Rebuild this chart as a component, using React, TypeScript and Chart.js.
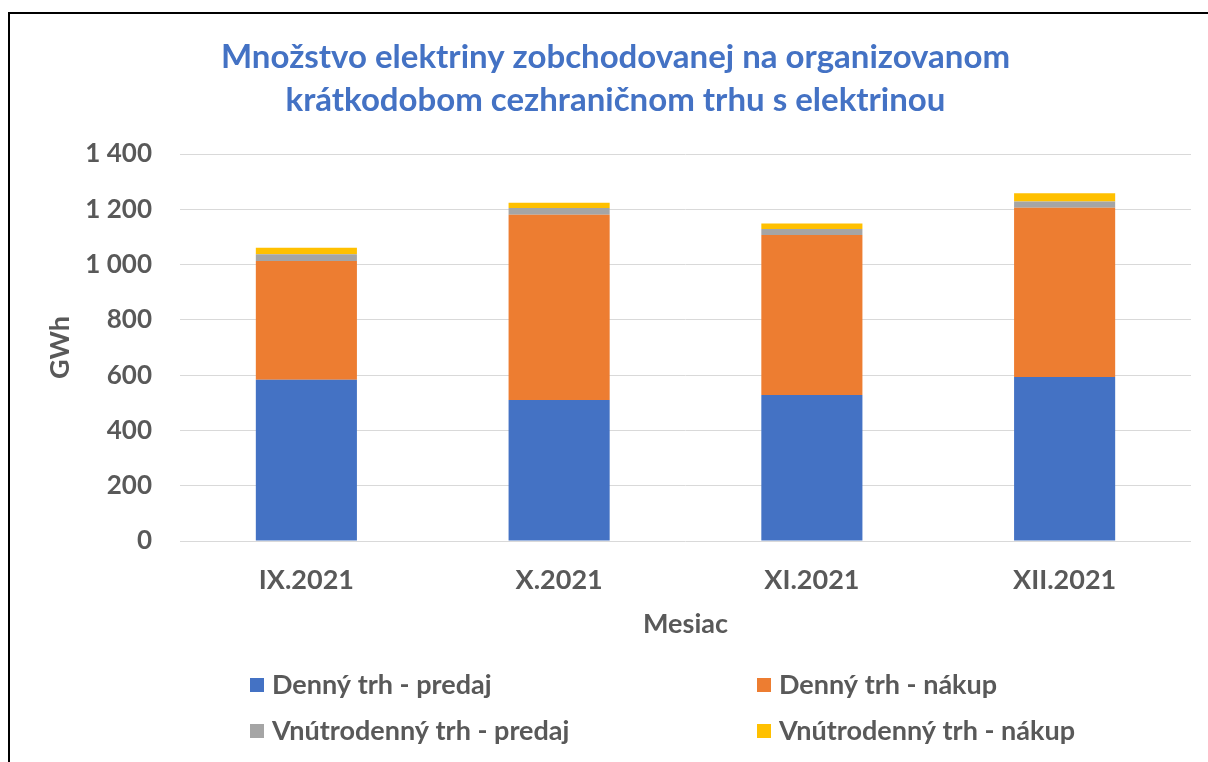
import React, { useEffect, useRef } from "react";
import { Chart, registerables } from "chart.js";

Chart.register(...registerables);

const titleLines = [
  "Množstvo elektriny zobchodovanej na organizovanom",
  "krátkodobom cezhraničnom trhu s elektrinou",
];
const categories = ["IX.2021", "X.2021", "XI.2021", "XII.2021"];
const seriesNames = [
  "Denný trh - predaj",
  "Denný trh - nákup",
  "Vnútrodenný trh - predaj",
  "Vnútrodenný trh - nákup",
];
const dennyPredaj = [583, 510, 528, 593];
const dennyNakup = [430, 670, 579, 613];
const vnutroPredaj = [24, 25, 22, 22];
const vnutroNakup = [24, 19, 20, 30];
const seriesColors = ["#4472C4", "#ED7D31", "#A5A5A5", "#FFC000"];
const yAxisTitle = "GWh";
const xAxisTitle = "Mesiac";

const FONT = "Lato";
const TEXT = "#595959";

const gridLegend = {
  id: "gridLegend",
  afterDraw(chart: any) {
    const ctx = chart.ctx;
    const area = chart.chartArea;
    const cols = [250, 757];
    const rows = [area.bottom + 144, area.bottom + 190];
    ctx.save();
    ctx.font = `bold 27px ${FONT}`;
    ctx.textBaseline = "middle";
    ctx.textAlign = "left";
    chart.data.datasets.forEach((d: any, i: number) => {
      const x = cols[i % 2];
      const y = rows[Math.floor(i / 2)];
      ctx.fillStyle = d.backgroundColor;
      ctx.fillRect(x, y - 7, 14, 14);
      ctx.fillStyle = TEXT;
      ctx.fillText(d.label, x + 22, y);
    });
    ctx.restore();
  },
};

export default function App() {
  const ref = useRef<HTMLCanvasElement | null>(null);

  useEffect(() => {
    if (!ref.current) return;
    const values = [dennyPredaj, dennyNakup, vnutroPredaj, vnutroNakup];
    const chart = new Chart(ref.current, {
      type: "bar",
      data: {
        labels: categories,
        datasets: seriesNames.map((name, i) => ({
          label: name,
          data: values[i],
          backgroundColor: seriesColors[i],
          borderWidth: 0,
          barPercentage: 0.4,
          categoryPercentage: 1,
        })),
      },
      plugins: [gridLegend],
      options: {
        animation: false,
        responsive: true,
        maintainAspectRatio: false,
        layout: { padding: { top: 0, left: 40, right: 17, bottom: 111 } },
        plugins: {
          legend: { display: false },
          tooltip: { enabled: false },
          title: {
            display: true,
            text: titleLines,
            color: "#4472C4",
            font: { family: FONT, size: 33, weight: "bold", lineHeight: 43 / 33 },
            padding: { top: 35.5, bottom: 32.5 },
          },
        },
        scales: {
          x: {
            stacked: true,
            grid: { display: false, drawTicks: false },
            border: { display: false },
            ticks: {
              color: TEXT,
              font: { family: FONT, size: 27, weight: "bold" },
              padding: 23,
            },
            title: {
              display: true,
              text: xAxisTitle,
              color: TEXT,
              font: { family: FONT, size: 27, weight: "bold" },
              padding: { top: 0, bottom: 11 },
            },
            afterFit: (s: any) => {
              s.height = 110;
            },
          },
          y: {
            stacked: true,
            min: 0,
            max: 1400,
            grid: { color: "#D9D9D9", lineWidth: 1, drawTicks: false },
            border: { display: false },
            ticks: {
              stepSize: 200,
              color: TEXT,
              font: { family: FONT, size: 26, weight: "bold" },
              padding: 28,
              callback: (v: any) => String(v).replace(/\B(?=(\d{3})+(?!\d))/g, " "),
            },
            title: {
              display: true,
              text: yAxisTitle,
              color: TEXT,
              font: { family: FONT, size: 27, weight: "bold" },
              padding: { top: 4, bottom: 0 },
            },
            afterFit: (s: any) => {
              s.width = 140;
            },
          },
        },
      },
    } as any);
    return () => chart.destroy();
  }, []);

  return (
    <div style={{ position: "fixed", left: 0, top: 0, width: 1208, height: 762, overflow: "hidden", background: "#fff" }}>
      <div
        style={{
          position: "absolute",
          left: 8,
          top: 12,
          width: 1400,
          height: 1000,
          border: "2px solid #000",
        }}
      />
      <div style={{ position: "absolute", left: 0, top: 0, width: 1208, height: 762 }}>
        <canvas ref={ref} />
      </div>
    </div>
  );
}
